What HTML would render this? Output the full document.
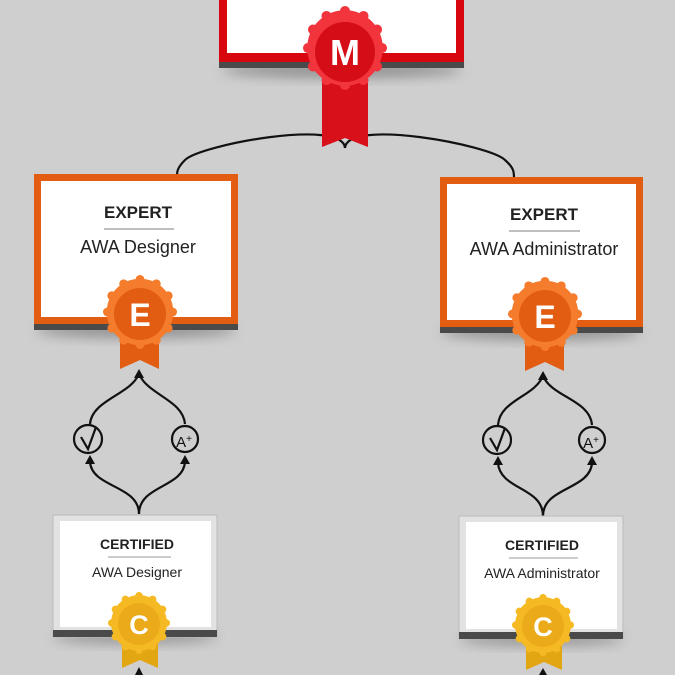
<!DOCTYPE html>
<html><head><meta charset="utf-8"><style>
html,body{margin:0;padding:0;background:#cfcfcf;}
svg{display:block;}
text{font-family:"Liberation Sans",sans-serif;}
</style></head><body>
<svg width="675" height="675" viewBox="0 0 675 675" xmlns="http://www.w3.org/2000/svg">
<defs>
<filter id="blur" x="-50%" y="-50%" width="200%" height="200%"><feGaussianBlur stdDeviation="6"/></filter>
<g id="ros">
<circle r="0.9"/>
<circle cx="0" cy="-0.88" r="0.12"/><circle cx="0.44" cy="-0.762" r="0.12"/><circle cx="0.762" cy="-0.44" r="0.12"/>
<circle cx="0.88" cy="0" r="0.12"/><circle cx="0.762" cy="0.44" r="0.12"/><circle cx="0.44" cy="0.762" r="0.12"/>
<circle cx="0" cy="0.88" r="0.12"/><circle cx="-0.44" cy="0.762" r="0.12"/><circle cx="-0.762" cy="0.44" r="0.12"/>
<circle cx="-0.88" cy="0" r="0.12"/><circle cx="-0.762" cy="-0.44" r="0.12"/><circle cx="-0.44" cy="-0.762" r="0.12"/>
</g>
</defs>

<!-- shadows -->
<ellipse cx="342" cy="70" rx="120" ry="8" fill="#555" opacity="0.5" filter="url(#blur)"/>
<ellipse cx="136" cy="330" rx="100" ry="8" fill="#555" opacity="0.5" filter="url(#blur)"/>
<ellipse cx="541" cy="332" rx="100" ry="8" fill="#555" opacity="0.5" filter="url(#blur)"/>
<ellipse cx="135" cy="637" rx="82" ry="7" fill="#555" opacity="0.45" filter="url(#blur)"/>
<ellipse cx="541" cy="639" rx="82" ry="7" fill="#555" opacity="0.45" filter="url(#blur)"/>

<!-- M card -->
<rect x="219" y="-10" width="245" height="78" fill="#4a4a4a"/>
<rect x="219" y="-10" width="245" height="72" fill="#d8060e"/>
<rect x="227" y="-10" width="229" height="63" fill="#fff"/>
<!-- connector M -->
<path d="M345,148 C343,118 200,145 185,160 C177,168 177,172 177,176" fill="none" stroke="#111" stroke-width="2.2"/>
<path d="M345,148 C347,118 490,145 505,160 C514,168 514,172 514,178" fill="none" stroke="#111" stroke-width="2.2"/>
<path d="M322,80 L368,80 L368,147 L345,138 L322,147 Z" fill="#d8101a"/>
<g transform="translate(345,48) scale(42)" fill="#f2343c"><use href="#ros"/></g>
<circle cx="345" cy="52" r="30" fill="#d50d16"/>
<text x="345" y="65" text-anchor="middle" font-size="36" font-weight="bold" fill="#fff">M</text>

<!-- Expert left -->
<rect x="34" y="174" width="204" height="156" fill="#4a4a4a"/>
<rect x="34" y="174" width="204" height="150" fill="#e25c12"/>
<rect x="41" y="181" width="190" height="136" fill="#fff"/>
<text x="138" y="218" text-anchor="middle" font-size="17" font-weight="bold" fill="#222">EXPERT</text>
<line x1="104" y1="229" x2="174" y2="229" stroke="#999" stroke-width="1.2"/>
<text x="138" y="253" text-anchor="middle" font-size="18" fill="#222">AWA Designer</text>
<path d="M120,330 L159,330 L159,369 L140,360 L120,369 Z" fill="#e25c12"/>
<g transform="translate(140,312) scale(37)" fill="#f57c2c"><use href="#ros"/></g>
<circle cx="140" cy="314" r="26" fill="#e25c12"/>
<text x="140" y="326" text-anchor="middle" font-size="32" font-weight="bold" fill="#fff">E</text>

<!-- Expert right -->
<rect x="440" y="177" width="203" height="156" fill="#4a4a4a"/>
<rect x="440" y="177" width="203" height="150" fill="#e25c12"/>
<rect x="447" y="184" width="189" height="136" fill="#fff"/>
<text x="544" y="220" text-anchor="middle" font-size="17" font-weight="bold" fill="#222">EXPERT</text>
<line x1="509" y1="231" x2="580" y2="231" stroke="#999" stroke-width="1.2"/>
<text x="544" y="255" text-anchor="middle" font-size="18" fill="#222">AWA Administrator</text>
<path d="M525,332 L564,332 L564,371 L545,362 L525,371 Z" fill="#e25c12"/>
<g transform="translate(545,314) scale(37)" fill="#f57c2c"><use href="#ros"/></g>
<circle cx="545" cy="316" r="26" fill="#e25c12"/>
<text x="545" y="328" text-anchor="middle" font-size="32" font-weight="bold" fill="#fff">E</text>

<!-- loops -->
<g fill="none" stroke="#111" stroke-width="2.2">
<path d="M139,374 C130,395 92,400 90,424"/>
<path d="M139,374 C148,395 183,400 185,424"/>
<path d="M139,514 C139,485 92,488 90,462"/>
<path d="M139,514 C139,485 183,488 185,462"/>
<circle cx="88" cy="439" r="14"/><circle cx="185" cy="439" r="13"/>
<path d="M81,437 L88,449 L96,427"/>
<path d="M543,376 C534,397 500,400 498,425"/>
<path d="M543,376 C552,397 590,400 592,425"/>
<path d="M543,516 C543,487 500,490 498,463"/>
<path d="M543,516 C543,487 590,490 592,463"/>
<circle cx="497" cy="440" r="14"/><circle cx="592" cy="440" r="13"/>
<path d="M490,438 L497,450 L505,428"/>
</g>
<g fill="#111">
<path d="M134,378 L139,369 L144,378 Z"/>
<path d="M85,464 L90,455 L95,464 Z"/>
<path d="M180,464 L185,455 L190,464 Z"/>
<path d="M538,380 L543,371 L548,380 Z"/>
<path d="M493,465 L498,456 L503,465 Z"/>
<path d="M587,465 L592,456 L597,465 Z"/>
</g>
<text x="184" y="447" text-anchor="middle" font-size="15" fill="#111">A<tspan font-size="10" dy="-5">+</tspan></text>
<text x="591" y="448" text-anchor="middle" font-size="15" fill="#111">A<tspan font-size="10" dy="-5">+</tspan></text>

<!-- Certified left -->
<rect x="53" y="515" width="164" height="122" fill="#e2e2e2" stroke="#bbb" stroke-width="1"/>
<rect x="53" y="630" width="164" height="7" fill="#4a4a4a"/>
<rect x="60" y="521" width="151" height="106" fill="#fff"/>
<text x="137" y="549" text-anchor="middle" font-size="14" font-weight="bold" fill="#222">CERTIFIED</text>
<line x1="108" y1="557" x2="171" y2="557" stroke="#999" stroke-width="1"/>
<text x="137" y="577" text-anchor="middle" font-size="14" fill="#222">AWA Designer</text>
<path d="M122,640 L158,640 L158,668 L140,660 L122,668 Z" fill="#e3a613"/>
<g transform="translate(139,623) scale(31)" fill="#f5b923"><use href="#ros"/></g>
<circle cx="139" cy="624" r="21" fill="#ebaa1a"/>
<text x="139" y="634" text-anchor="middle" font-size="27" font-weight="bold" fill="#fff">C</text>
<path d="M135,675 L139,667 L143,675 Z" fill="#111"/>

<!-- Certified right -->
<rect x="459" y="516" width="164" height="122" fill="#e2e2e2" stroke="#bbb" stroke-width="1"/>
<rect x="459" y="632" width="164" height="7" fill="#4a4a4a"/>
<rect x="466" y="522" width="151" height="107" fill="#fff"/>
<text x="542" y="550" text-anchor="middle" font-size="14" font-weight="bold" fill="#222">CERTIFIED</text>
<line x1="509" y1="558" x2="578" y2="558" stroke="#999" stroke-width="1"/>
<text x="542" y="578" text-anchor="middle" font-size="14" fill="#222">AWA Administrator</text>
<path d="M526,642 L562,642 L562,670 L544,662 L526,670 Z" fill="#e3a613"/>
<g transform="translate(543,625) scale(31)" fill="#f5b923"><use href="#ros"/></g>
<circle cx="543" cy="626" r="21" fill="#ebaa1a"/>
<text x="543" y="636" text-anchor="middle" font-size="27" font-weight="bold" fill="#fff">C</text>
<path d="M539,675 L543,668 L547,675 Z" fill="#111"/>
</svg>
</body></html>
